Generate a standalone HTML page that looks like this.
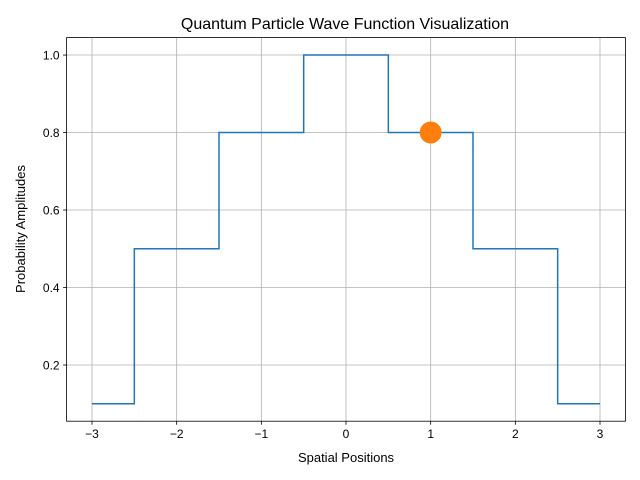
<!DOCTYPE html>
<html><head><meta charset="utf-8"><style>body{margin:0;background:#fff}svg{display:block;font-family:"Liberation Sans","DejaVu Sans",sans-serif}</style></head>
<body>
<svg id="chart" width="640" height="480" xmlns="http://www.w3.org/2000/svg">
<rect width="640" height="480" fill="#fff"/>
<text x="345" y="29" font-size="16" text-anchor="middle">Quantum Particle Wave Function Visualization</text>
<g id="grid"></g>
<g id="series"></g>
<rect x="66.6" y="37.6" width="558.8" height="383.6" fill="none" stroke="#000" stroke-width="0.8"/>
<g id="ticks" font-size="12"></g>
<text x="346" y="462" font-size="13" text-anchor="middle">Spatial Positions</text>
<text transform="translate(25,229) rotate(-90)" font-size="13" text-anchor="middle">Probability Amplitudes</text>
</svg>
<script>
const positions = [-3, -2, -1, 0, 1, 2, 3];
const amplitudes = [0.1, 0.5, 0.8, 1.0, 0.8, 0.5, 0.1];
const highlightX = [1];
const highlightY = [0.8];
const xTicks = [-3, -2, -1, 0, 1, 2, 3];
const xTickLabels = ["\u22123", "\u22122", "\u22121", "0", "1", "2", "3"];
const yTicks = [0.2, 0.4, 0.6, 0.8, 1.0];
const yTickLabels = ["0.2", "0.4", "0.6", "0.8", "1.0"];

const L = 66.6, R = 625.4, T = 37.6, B = 421.2;
const xmin = -3.3, xmax = 3.3, ymin = 0.055, ymax = 1.045;
const xs = v => L + (v - xmin) / (xmax - xmin) * (R - L);
const ys = v => B - (v - ymin) / (ymax - ymin) * (B - T);
const NS = "http://www.w3.org/2000/svg";
function mk(tag, attrs, parent) { const e = document.createElementNS(NS, tag); for (const k in attrs) e.setAttribute(k, attrs[k]); parent.appendChild(e); return e; }
const grid = document.getElementById('grid'), ticks = document.getElementById('ticks'), series = document.getElementById('series');

xTicks.forEach((t, i) => {
  const x = xs(t);
  const g = mk('line', {x1: x, x2: x, y1: T, y2: B, stroke: '#b0b0b0', 'stroke-width': 0.8}, grid);
  
  
  mk('line', {x1: x, x2: x, y1: B, y2: B + 3.5, stroke: '#000', 'stroke-width': 0.8}, ticks);
  const tx = mk('text', {x: x, y: B + 17, 'text-anchor': 'middle'}, ticks);
  tx.textContent = xTickLabels[i];
  
  
});
yTicks.forEach((t, i) => {
  const y = ys(t);
  const g = mk('line', {x1: L, x2: R, y1: y, y2: y, stroke: '#b0b0b0', 'stroke-width': 0.8}, grid);
  
  
  mk('line', {x1: L - 3.5, x2: L, y1: y, y2: y, stroke: '#000', 'stroke-width': 0.8}, ticks);
  const tx = mk('text', {x: L - 7, y: y + 4.5, 'text-anchor': 'end'}, ticks);
  tx.textContent = yTickLabels[i];
  
  
});

// step plot, where='mid'
let d = `M${xs(positions[0])},${ys(amplitudes[0])}`;
for (let i = 1; i < positions.length; i++) {
  const mx = xs((positions[i - 1] + positions[i]) / 2);
  d += ` H${mx} V${ys(amplitudes[i])}`;
}
d += ` H${xs(positions[positions.length - 1])}`;
const p = mk('path', {d: d, fill: 'none', stroke: '#1f77b4', 'stroke-width': 1.5}, series);



highlightX.forEach((v, i) => {
  const c = mk('circle', {cx: xs(v), cy: ys(highlightY[i]), r: 11, fill: '#ff7f0e'}, series);
  
  
});
</script>
</body></html>
